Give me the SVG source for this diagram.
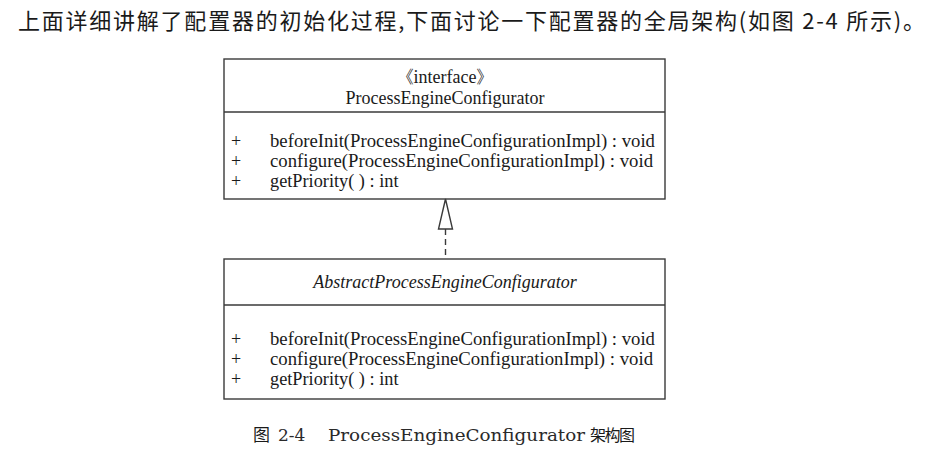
<svg xmlns="http://www.w3.org/2000/svg" width="938" height="460" viewBox="0 0 938 460">
<style>
.box{fill:#fff;stroke:#3a3a3a;stroke-width:1.4}
.ln{stroke:#3a3a3a;stroke-width:1.4;fill:none}
.t{font-family:"Liberation Serif","Times New Roman",serif;font-size:18px;fill:#1a1a1a}
.m{font-size:18.3px}
.c{text-anchor:middle}
.cjk{font-family:"Noto Sans CJK SC","Noto Sans",sans-serif;fill:#1a1a1a}
.cap{font-family:"DejaVu Serif","Liberation Serif",serif;font-size:17px;fill:#2a2a2a}
</style>
<rect width="938" height="460" fill="#fff"/>
<text class="cjk" x="18" y="29" font-size="22" textLength="907" lengthAdjust="spacing">上面详细讲解了配置器的初始化过程,下面讨论一下配置器的全局架构(如图 2-4 所示)。</text>
<g id="ProcessEngineConfigurator">
<rect class="box" x="224" y="59" width="441" height="140"/>
<line class="ln" x1="224" y1="112" x2="665" y2="112"/>
<text class="t c" x="445" y="83">《interface》</text>
<text class="t c" x="445" y="104">ProcessEngineConfigurator</text>
<text class="t" x="231" y="147">+</text>
<text class="t m" x="270" y="147" textLength="385" lengthAdjust="spacingAndGlyphs">beforeInit(ProcessEngineConfigurationImpl) : void</text>
<text class="t" x="231" y="167">+</text>
<text class="t m" x="270" y="167" textLength="383" lengthAdjust="spacingAndGlyphs">configure(ProcessEngineConfigurationImpl) : void</text>
<text class="t" x="231" y="187">+</text>
<text class="t m" x="270" y="187">getPriority( ) : int</text>
</g>
<g id="AbstractProcessEngineConfigurator">
<rect class="box" x="224" y="259" width="441" height="140"/>
<line class="ln" x1="224" y1="305" x2="665" y2="305"/>
<text class="t c" x="445" y="288" font-style="italic">AbstractProcessEngineConfigurator</text>
<text class="t" x="231" y="345">+</text>
<text class="t m" x="270" y="345" textLength="385" lengthAdjust="spacingAndGlyphs">beforeInit(ProcessEngineConfigurationImpl) : void</text>
<text class="t" x="231" y="365">+</text>
<text class="t m" x="270" y="365" textLength="383" lengthAdjust="spacingAndGlyphs">configure(ProcessEngineConfigurationImpl) : void</text>
<text class="t" x="231" y="385">+</text>
<text class="t m" x="270" y="385">getPriority( ) : int</text>
</g>
<g id="connectors">
<line class="ln" x1="445.5" y1="229" x2="445.5" y2="259" stroke-dasharray="6,4"/>
<polygon class="ln" points="445.5,199 438.5,229 452.5,229" fill="#fff"/>
</g>
<text class="cjk" x="253" y="441" font-size="17">图</text>
<text class="cap" x="278" y="441">2-4</text>
<text class="cap" x="328" y="441" textLength="257" lengthAdjust="spacingAndGlyphs">ProcessEngineConfigurator</text>
<text class="cjk" x="590" y="441" font-size="16" textLength="45" lengthAdjust="spacing">架构图</text>
</svg>
